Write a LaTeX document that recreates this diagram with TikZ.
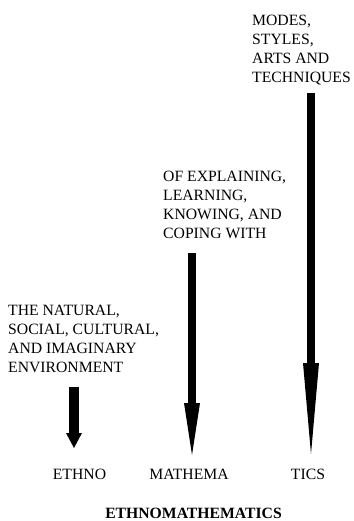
\documentclass[tikz,border=0pt]{standalone}
\usepackage{fontspec}
\setmainfont{Liberation Serif}
\usetikzlibrary{arrows.meta,positioning}

\begin{document}
\begin{tikzpicture}[x=1pt,y=-1pt,
  note/.style={anchor=north west,inner sep=0pt,align=left,
               font=\fontsize{15.7}{19}\selectfont},
  lab/.style={anchor=base,inner sep=0pt,font=\fontsize{15.7}{19}\selectfont},
  arr/.style={-{Triangle[length=#1,width=16pt,line width=0pt]},line width=8.5pt}
]
\useasboundingbox (0,0) rectangle (353,521);

\node[note] (nat)  at (8,305)
  {THE NATURAL,\\SOCIAL, CULTURAL,\\AND IMAGINARY\\ENVIRONMENT};
\node[note] (expl) at (163,171)
  {OF EXPLAINING,\\LEARNING,\\KNOWING, AND\\COPING WITH};
\node[note] (mode) at (252,15)
  {MODES,\\STYLES,\\ARTS AND\\TECHNIQUES};

\node[lab] (ethno)   at (79.5,479) {ETHNO};
\node[lab] (mathema) at (189,479)  {MATHEMA};
\node[lab] (tics)    at (308,479)  {TICS};
\node[lab,font=\fontsize{15.7}{19}\selectfont\bfseries] (whole) at (193.5,518)
  {ETHNOMATHEMATICS};

% ends of the three arrows
\coordinate (ethnotop)   at (74,387);
\coordinate (ethnotip)   at (74,448);
\coordinate (mathematop) at (192,253);
\coordinate (mathematip) at (192,455);
\coordinate (ticstop)    at (311,93);
\coordinate (ticstip)    at (311,454);

\draw[arr=15pt,line width=9.5pt] (ethnotop) -- (ethnotip);
\draw[arr=52pt] (mathematop) -- (mathematip);
\draw[arr=91pt] (ticstop) -- (ticstip);
\end{tikzpicture}
\end{document}
